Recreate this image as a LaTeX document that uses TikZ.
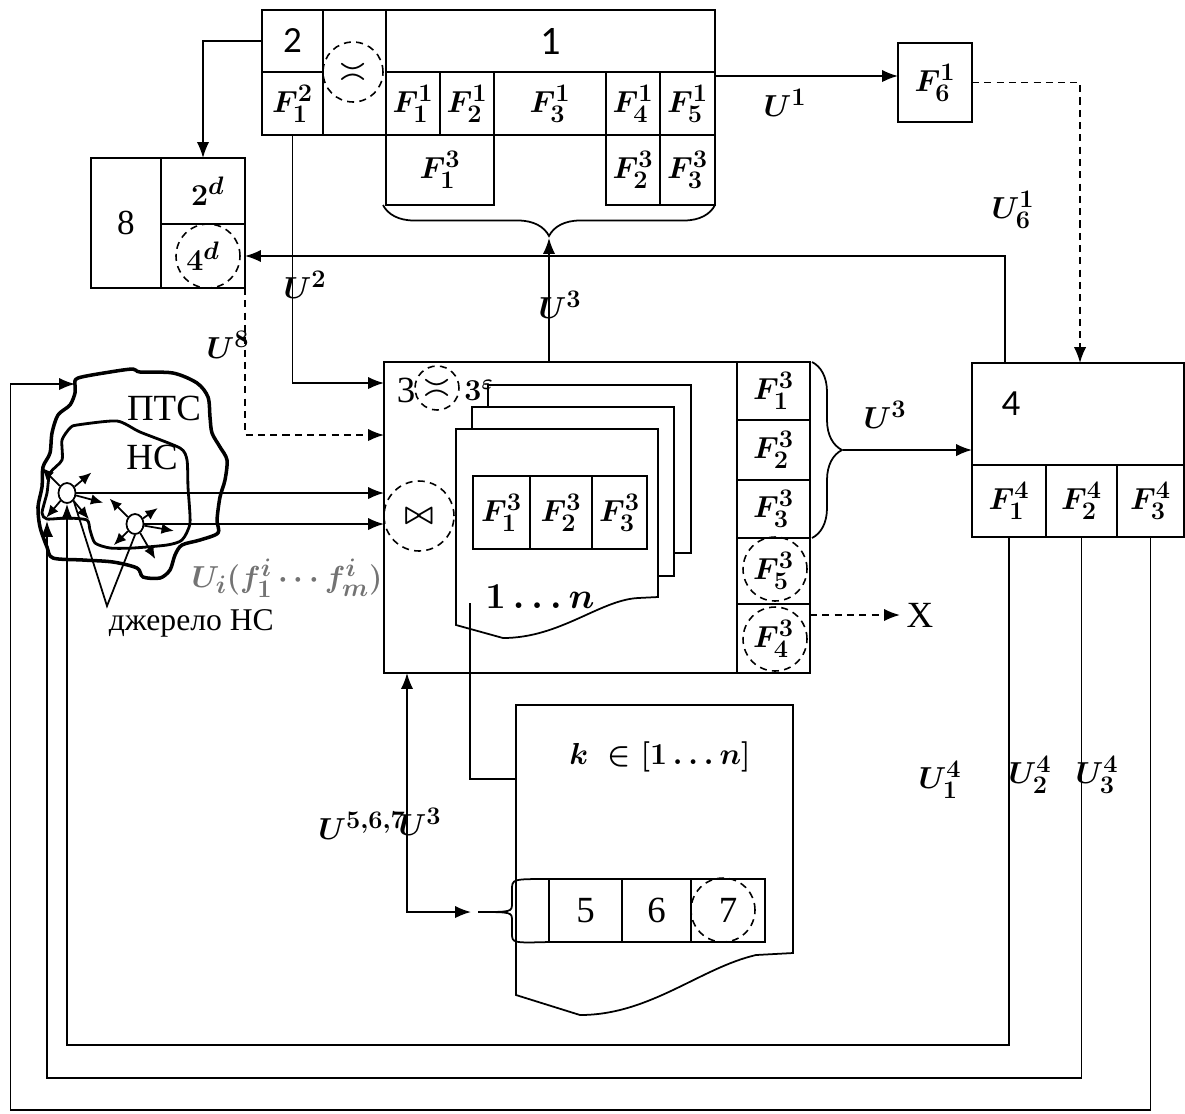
\documentclass[tikz,border=0pt]{standalone}
\usepackage{amsmath}
\usepackage{fontspec}
\setmainfont{Liberation Serif}
\newfontfamily\numfont{Carlito}
\usetikzlibrary{positioning,arrows.meta,decorations.pathreplacing,shapes.geometric}
\newcommand{\fmath}{\fontsize{19}{22}\selectfont\boldmath}
\newcommand{\fnum}{\numfont\fontsize{21}{24}\selectfont}
\newcommand{\fser}{\fontsize{21}{25}\selectfont}
\newcommand{\fmid}{\fontsize{18}{21}\selectfont}

\begin{document}
\begin{tikzpicture}[x=0.02cm,y=-0.02cm,line width=1pt,
    >={Latex[length=9pt,width=7pt]},
    cell/.style 2 args={draw,inner sep=0pt,outer sep=0pt,anchor=north west,
      minimum width=#1*0.02cm,minimum height=#2*0.02cm,font=\fmath},
    ring/.style={draw,circle,dash pattern=on 4pt off 3pt,line width=0.9pt,
      inner sep=0pt,minimum size=#1*0.04cm},
    ar/.style={->},
    dar/.style={->,dash pattern=on 4pt off 3pt},
    sar/.style={-{Latex[length=7pt,width=6pt]}},
    lab/.style={font=\fmath,inner sep=0pt},
    blob/.style={line width=2pt,line join=round}]
  \useasboundingbox (0,0) rectangle (1185,1113);

  % block 2 and block 1
  \node[cell={61}{62},font=\fnum] (b2) at (262,10) {2};
  \node[cell={61}{63}] (f21) at (262,72) {$F_1^2$};
  \node[cell={63}{125}] (sync) at (323,10) {};
  \node[ring=30,font=\fmath] (eq1) at (353,72) {$\asymp$};
  \node[cell={329}{62},font=\fnum\fontsize{23}{26}\selectfont] (b1) at (386,10) {1};
  \node[cell={54}{63}] (f11) at (386,72) {$F_1^1$};
  \node[cell={54}{63}] (f12) at (440,72) {$F_2^1$};
  \node[cell={112}{63}] (f13) at (494,72) {$F_3^1$};
  \node[cell={54}{63}] (f14) at (606,72) {$F_4^1$};
  \node[cell={55}{63}] (f15) at (660,72) {$F_5^1$};
  \node[cell={108}{70}] (t31) at (386,135) {$F_1^3$};
  \node[cell={54}{70}] (t32) at (606,135) {$F_2^3$};
  \node[cell={55}{70}] (t33) at (660,135) {$F_3^3$};
  \draw[decorate,decoration={brace,amplitude=0.62cm}] (715,205) -- (383,205);
  \coordinate (brtop) at (549,238);
  \node[cell={74}{79}] (f61) at (898,43) {$F_6^1$};

  % block 8
  \node[cell={70}{130},font=\fmid\fontsize{20}{24}\selectfont] (b8) at (91,158) {8};
  \node[cell={84}{66}] (d2) at (161,158) {$\;2^d$};
  \node[cell={84}{64}] (d4) at (161,224) {$4^d$};
  \node[ring=32] (r4) at (208,256) {};

  % block 3
  \node[cell={353}{311}] (b3) at (384,362) {};
  \node[font=\fser] (n3) at (406,390) {3};
  \node[ring=22,font=\fmath] (eq3) at (437,388) {$\asymp$};
  \node[lab,font=\fmath\fontsize{17}{20}\selectfont] (n3e) at (479,390) {$3^{\varepsilon}$};
  \node[ring=35,font=\fmath] (join) at (419,516) {$\bowtie$};
  \node[cell={73}{58}] (c31) at (737,362) {$F_1^3$};
  \node[cell={73}{60}] (c32) at (737,420) {$F_2^3$};
  \node[cell={73}{58}] (c33) at (737,480) {$F_3^3$};
  \node[cell={73}{66}] (c35) at (737,538) {$F_5^3$};
  \node[cell={73}{69}] (c34) at (737,604) {$F_4^3$};
  \node[ring=32] (r35) at (775,569) {};
  \node[ring=32] (r34) at (775,639) {};
  \draw[decorate,decoration={brace,amplitude=0.6cm}] (812,362) -- (812,538);
  \coordinate (br3) at (843,450);
  \draw (488,407) -- (488,385) -- (691,385) -- (691,553) -- (674,553);
  \draw (472,429) -- (472,407) -- (674,407) -- (674,576) -- (658,576);
  \draw (456,625) -- (456,429) -- (658,429) -- (658,597) -- (638,598)
    .. controls (600,600) and (560,638) .. (503,638) -- cycle;
  \node[cell={57}{73}] (p31) at (473,476) {$F_1^3$};
  \node[cell={62}{73}] (p32) at (530,476) {$F_2^3$};
  \node[cell={55}{73}] (p33) at (592,476) {$F_3^3$};
  \node[lab,font=\fmath\fontsize{21}{24}\selectfont] (pn) at (540,597) {$1\ldots n$};
  \coordinate (pg) at (470,603);

  % block k
  \draw (516,995) -- (516,705) -- (793,705) -- (793,953) -- (756,955)
    .. controls (700,968) and (650,1015) .. (580,1015) -- cycle;
  \coordinate (kin) at (516,779);
  \node[lab] (kset) at (660,757) {$k\;\in[1\ldots n]$};
  \node[cell={73}{63},font=\fser] (k5) at (549,879) {5};
  \node[cell={69}{63},font=\fser] (k6) at (622,879) {6};
  \node[cell={74}{63},font=\fser] (k7) at (691,879) {7};
  \node[ring=32] (r7) at (723,910) {};
  \draw (k5.north west) .. controls (512,879) .. (512,890) -- (512,903)
    .. controls (512,912) .. (478,912) .. controls (512,912) .. (512,921)
    -- (512,933) .. controls (512,943) .. (k5.south west);
  \coordinate (br5) at (478,912);

  % block 4
  \node[cell={212}{102}] (b4) at (972,363) {};
  \node[font=\fnum] (n4) at (1011,404) {4};
  \node[cell={74}{72}] (f41) at (972,465) {$F_1^4$};
  \node[cell={71}{72}] (f42) at (1046,465) {$F_2^4$};
  \node[cell={67}{72}] (f43) at (1117,465) {$F_3^4$};

  % object: ПТС and НС
  \draw[blob] plot[smooth cycle,tension=0.5] coordinates {(75,385) (78,378)
    (110,372) (133,369) (140,372) (173,373) (197,383) (208,397) (210,417)
    (212,433) (220,447) (227,460) (225,480) (220,497) (217,520) (218,533)
    (200,540) (182,545) (175,555) (170,570) (160,578) (143,577) (137,568)
    (113,562) (83,560) (53,558) (47,547) (40,527) (38,507) (42,487) (43,467)
    (50,453) (52,433) (58,415) (70,405) (75,393)};
  \draw[blob,line width=1.6pt] plot[smooth cycle,tension=0.4] coordinates {(77,425)
    (117,421) (140,432) (180,448) (187,460) (188,487) (190,523) (182,540)
    (167,545) (133,548) (110,548) (95,543) (90,530) (87,520) (67,518)
    (47,519) (42,513) (47,493) (50,473) (62,460) (62,440) (70,428)};
  \node[font=\fser] (pts) at (164,408) {ПТС};
  \node[font=\fser] (ns) at (152,457) {НС};
  \node[draw,ellipse,inner sep=0pt,minimum width=0.34cm,minimum height=0.4cm] (src1) at (67,493) {};
  \node[draw,ellipse,inner sep=0pt,minimum width=0.34cm,minimum height=0.4cm] (src2) at (135,524) {};
  \foreach \a/\b/\l in {135/-135/26,40/-40/22,-15/15/28,-130/130/22,-50/50/24}
    \draw[sar] (src1.\a) -- ++(\b:\l);
  \foreach \a/\b/\l in {135/-135/26,35/-35/18,-135/135/20,-60/60/30,-10/10/30}
    \draw[sar] (src2.\a) -- ++(\b:\l);
  \coordinate (vtip) at (107,606);
  \draw (src1.south east) -- (vtip) -- (src2.south);
  \node[font=\fmid,anchor=north west,inner sep=0pt] (srclab) at (108,609) {джерело НС};
  \node[lab,text=black!55] (uf) at (287,578) {$U_i(f_1^i\cdots f_m^i)$};
  \coordinate (ptsin) at (75,384);
  \coordinate (nsin) at (47,521);

  % connectors
  \coordinate (u1a) at (715,76);
  \draw[ar] (u1a) -- (u1a -| f61.west);
  \coordinate (b4b) at (1080,363);
  \draw[dar] (f61.east) -| (b4b);
  \draw[ar] (b2.west) -| (d2.north);
  \coordinate (b4a) at (1005,363);
  \draw[ar] (b4a) |- (d4.east);
  \coordinate (b3a) at (384,383);
  \coordinate (b3b) at (384,435);
  \draw[ar] (f21.south) |- (b3a);
  \draw[dar] (d4.south east) |- (b3b);
  \draw[ar] (brtop |- b3.north) -- (brtop);
  \draw[ar] (br3) -- (br3 -| b4.west);
  \draw[ar] (src1.east) -- (src1 -| b3.west);
  \draw[ar] (src2.east) -- (src2 -| b3.west);
  \node[font=\fser] (xout) at (920,615) {X};
  \draw[dar] (c34.east |- xout) -- (xout.west);
  \draw (pg) |- (kin);
  \coordinate (b3c) at (407,673);
  \draw[<->,shorten >=4pt] (b3c) |- (br5);
  \draw[ar] (f41.south) -- ++(0,508) -| (src1.south);
  \draw[ar] (f42.south) -- ++(0,541) -| (nsin);
  \draw[ar] (f43.south) -- ++(0,573) -- ++(-1140,0) |- (ptsin);

  % flow labels
  \node[lab] (lu1) at (785,103) {$U^1$};
  \node[lab] (lu61) at (1013,210) {$U_6^1$};
  \node[lab] (lu2) at (305,285) {$U^2$};
  \node[lab] (lu8) at (228,345) {$U^8$};
  \node[lab] (lu3a) at (560,305) {$U^3$};
  \node[lab] (lu3b) at (885,415) {$U^3$};
  \node[lab] (lu567) at (362,826) {$U^{5,6,7}$};
  \node[lab] (lu3c) at (420,822) {$U^3$};
  \node[lab] (lu41) at (940,780) {$U_1^4$};
  \node[lab] (lu42) at (1030,775) {$U_2^4$};
  \node[lab] (lu43) at (1097,775) {$U_3^4$};
\end{tikzpicture}
\end{document}
